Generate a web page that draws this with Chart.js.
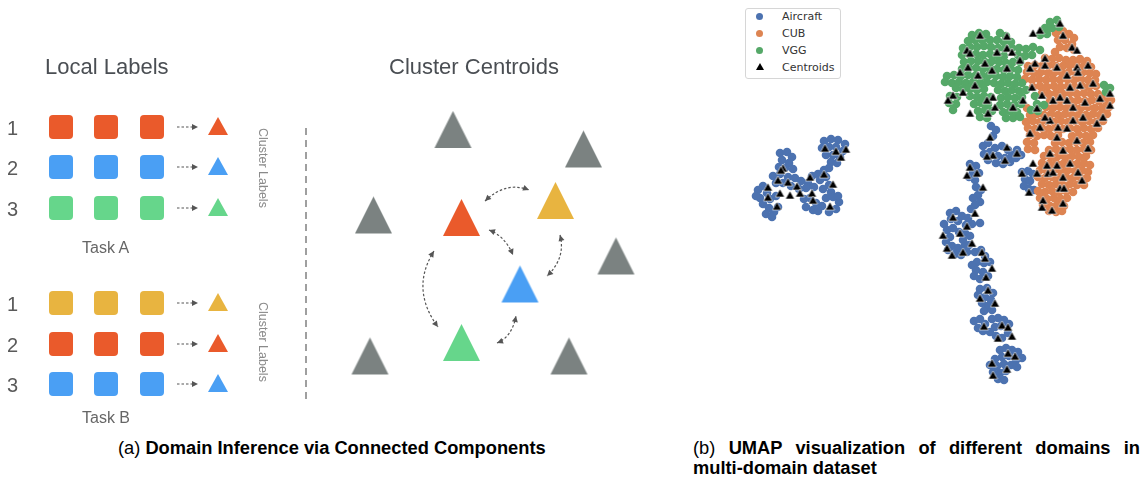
<!DOCTYPE html>
<html>
<head>
<meta charset="utf-8">
<script src="https://cdn.jsdelivr.net/npm/chart.js@4.4.1/dist/chart.umd.min.js"></script>
<style>
  body { margin: 0; background: #fff; width: 1147px; height: 480px; position: relative; overflow: hidden; font-family: "Liberation Sans", Arial, sans-serif; }
  canvas { position: absolute; }
  .t { position: absolute; line-height: 1; white-space: nowrap; }
  .title { font-size: 22px; color: #4a4e53; }
  .num { font-size: 20px; color: #5a5a5a; }
  .task { font-size: 16px; color: #666; }
  .vert { font-size: 12.5px; color: #8a8a8a; writing-mode: vertical-rl; }
  .cap { position: absolute; font-size: 18.3px; color: #000; line-height: 20px; }
  .cap b { font-weight: bold; }
  #legend { position: absolute; left: 745px; top: 8px; width: 94px; height: 69px; border: 1px solid #d6d6d6; border-radius: 3px; background: #fff; font-family: "DejaVu Sans", sans-serif; font-size: 11px; color: #333; }
  #legend div { position: absolute; line-height: 1; white-space: nowrap; }
</style>
</head>
<body>
<canvas id="diagram" width="700" height="430" style="left:0;top:0"></canvas>
<canvas id="umap" width="417" height="400" style="left:730px;top:0"></canvas>

<div class="t title" style="left:45px;top:56px">Local Labels</div>
<div class="t title" style="left:389px;top:56px">Cluster Centroids</div>
<div class="t task" style="left:82px;top:240px">Task A</div>
<div class="t task" style="left:82px;top:410px">Task B</div>
<div class="t vert" style="left:256px;top:128px">Cluster Labels</div>
<div class="t vert" style="left:256px;top:302px">Cluster Labels</div>
<div id="legend"></div>

<div class="cap" style="left:118px;top:438px;white-space:nowrap">(a) <b>Domain Inference via Connected Components</b></div>
<div class="cap" style="left:693px;top:438px;width:447px;text-align:justify">(b) <b>UMAP visualization of different domains in <span style="white-space:nowrap">multi-domain</span> dataset</b></div>

<script>
// ---- left panel: local labels -> cluster labels -> centroids
const palette = { red: '#ea5a2b', blue: '#4a9ff4', green: '#66d68b', yellow: '#e8b440', gray: '#7b8281' };

const squareCols = [61, 106, 152];
const clusterCol = 218;
const taskARows = [127, 167, 208];
const taskAColors = ['red', 'blue', 'green'];
const taskBRows = [303, 344, 384];
const taskBColors = ['yellow', 'red', 'blue'];
const rowNumbers = ['1', '2', '3'];

const centroidX = [453, 583.5, 373.5, 461.5, 555.5, 616, 520, 461.5, 370, 569];
const centroidY = [129.5, 149, 215, 217.5, 200.5, 256, 284, 342.5, 356, 356];
const centroidColors = ['gray', 'gray', 'gray', 'red', 'yellow', 'gray', 'blue', 'green', 'gray', 'gray'];

// curved double arrows between centroids: start, control, end
const linkArrows = [
  [485, 201, 506, 181, 529, 190],
  [489, 230, 505, 236, 513, 255],
  [560, 235, 566, 258, 547, 276],
  [434, 251, 410, 289, 438, 327],
  [497, 343, 512, 337, 516, 316]
];

// ---- right panel: UMAP embedding
const aircraft = [
  [824,141],[831,139],[838,140],[845,144],[822,148],[829,147],[836,147],[843,151],[826,155],[833,155],[840,157],[831,162],[837,163],
  [780,153],[787,152],[792,157],[782,160],[789,163],[785,168],[793,169],[779,167],
  [773,176],[780,174],[788,177],[795,178],[801,181],[808,183],[812,176],[818,174],[806,188],[799,189],[791,186],[783,183],[776,183],[814,187],[820,180],
  [824,170],[829,168],[826,177],[829,185],[823,189],[831,192],[826,198],[833,197],[839,202],[836,209],[829,212],[822,206],[838,196],
  [804,199],[810,198],[816,203],[813,210],[806,207],[818,211],
  [758,190],[763,186],[767,193],[760,198],[770,199],[763,204],[769,208],[774,212],[778,207],[766,214],[772,217],[776,196],[756,196],
  [991,126],[996,130],[993,136],
  [983,146],[988,143],[995,148],[1002,146],[1008,150],[1012,155],[1005,158],[998,156],[990,152],[984,154],[988,160],[996,163],[1003,164],[1010,162],
  [1017,150],[1021,155],[1016,158],
  [970,164],[976,166],[973,172],[979,173],[969,177],[975,180],
  [976,187],[981,190],[978,195],[973,198],[980,202],[975,205],[971,209],
  [1022,172],[1028,171],[1033,174],[1025,179],[1030,181],[1024,186],[1029,189],[1034,190],
  [950,213],[956,211],[962,216],[968,218],[972,224],[966,225],[958,221],[951,219],[944,224],[947,230],[953,228],[959,232],[965,233],[970,236],
  [963,240],[950,237],[946,242],[952,246],[958,248],[964,247],[969,245],[955,254],[961,255],[967,252],[948,250],
  [980,223],
  [975,252],[981,250],[985,256],[990,262],[984,263],[977,262],[972,265],[976,270],[983,272],[988,276],[980,279],[974,276],
  [980,289],[987,288],[993,293],[978,295],[985,297],[991,300],[982,303],[988,306],[984,311],[992,310],
  [974,321],[980,319],[985,324],[978,328],[983,331],
  [992,319],[998,318],[1004,320],[1009,324],[1001,326],[995,327],[990,332],[996,336],[1002,338],[1008,333],
  [1000,350],[1006,348],[1012,350],[1018,352],[1022,358],[1016,360],[1009,356],[1002,357],[995,359],[990,365],[997,366],[1004,364],[1011,365],[1017,367],
  [993,372],[1000,373],[1006,371],[998,379],[1004,380]
];

const cub = [
  [1056,33],[1063,31],[1069,34],[1074,38],[1058,40],[1065,40],[1072,44],[1060,47],[1067,48],[1074,50],[1055,52],
  [1045,58],[1052,59],[1059,58],[1066,60],[1073,60],[1080,59],[1087,61],
  [1028,66],[1035,65],[1042,66],[1049,65],[1056,66],[1063,66],[1070,65],[1077,66],[1084,66],[1091,67],
  [1027,72],[1034,73],[1041,72],[1048,73],[1055,72],[1062,73],[1069,72],[1076,73],[1083,72],[1090,73],[1096,74],
  [1025,79],[1032,80],[1039,79],[1046,80],[1053,79],[1060,80],[1067,79],[1074,80],[1081,79],[1088,80],[1095,80],
  [1033,87],[1040,86],[1047,87],[1054,86],[1061,87],[1068,86],[1075,87],[1082,86],[1089,87],[1096,86],
  [1042,93],[1049,94],[1056,93],[1063,94],[1070,93],[1077,94],[1084,93],[1091,94],[1098,94],[1105,96],
  [1050,100],[1057,101],[1064,100],[1071,101],[1078,100],[1085,101],[1092,100],[1099,101],[1106,101],[1111,100],
  [1027,108],[1046,107],[1053,108],[1060,107],[1067,108],[1074,107],[1081,108],[1088,107],[1095,108],[1102,108],[1109,107],
  [1030,115],[1037,114],[1044,115],[1051,114],[1058,115],[1065,114],[1072,115],[1079,114],[1086,115],[1093,114],[1100,115],[1107,114],
  [1026,122],[1033,121],[1040,122],[1047,121],[1054,122],[1061,121],[1068,122],[1075,121],[1082,122],[1089,121],[1096,122],[1103,121],
  [1028,128],[1035,129],[1042,128],[1049,129],[1056,128],[1063,129],[1070,128],[1077,129],[1084,128],[1091,129],[1098,128],
  [1030,135],[1037,136],[1044,135],[1051,136],[1058,135],[1072,136],[1079,135],[1086,136],[1093,135],
  [1027,142],[1034,143],[1055,143],[1062,142],[1069,143],[1076,142],[1083,143],[1090,142],
  [1028,149],[1035,150],[1049,150],[1056,149],[1063,150],[1070,149],[1077,150],[1084,149],[1091,150],
  [1044,156],[1051,157],[1058,156],[1065,157],[1072,156],[1079,157],[1086,156],
  [1042,163],[1049,164],[1056,163],[1063,164],[1070,163],[1077,164],[1084,163],[1090,165],
  [1040,170],[1047,171],[1054,170],[1061,171],[1068,170],[1075,171],[1082,170],[1088,172],
  [1038,177],[1045,178],[1052,177],[1059,178],[1066,177],[1073,178],[1080,177],[1087,178],
  [1042,184],[1049,185],[1056,184],[1063,185],[1070,184],[1077,185],[1084,185],
  [1038,191],[1045,192],[1052,191],[1059,192],[1066,191],[1073,192],
  [1040,198],[1047,199],[1054,198],[1061,199],[1067,198],
  [1043,205],[1050,206],[1057,205],[1064,206],
  [1049,211],[1056,212],[1062,211]
];

const vgg = [
  [1050,22],[1057,20],[1045,28],[1052,28],[1059,27],[1040,35],[1047,34],
  [972,35],[979,33],[986,34],[1000,33],[1006,36],
  [968,41],[975,40],[982,40],[990,40],[997,40],[1004,42],[1011,42],
  [963,48],[970,47],[977,47],[984,46],[991,47],[998,48],[1005,49],[1012,48],[1019,48],[1026,49],[1033,47],[1040,50],
  [962,55],[969,54],[976,54],[983,55],[990,54],[997,55],[1004,56],[1018,55],[1025,56],[1032,55],
  [964,62],[971,61],[978,61],[985,62],[992,61],[999,62],[1006,63],[1013,62],[1020,62],
  [962,69],[969,68],[976,68],[983,69],[990,68],[997,69],[1004,70],[1011,69],[1018,70],
  [947,76],[954,75],[961,76],[968,75],[975,76],[982,76],[989,75],[996,76],[1003,77],[1010,76],[1017,77],
  [945,82],[952,83],[959,82],[966,83],[973,82],[980,83],[987,82],[994,83],[1001,84],[1008,83],[1015,84],[1022,83],
  [956,88],[963,89],[970,89],[977,90],[984,89],[998,90],[1005,91],[1012,90],[1019,91],[1026,90],
  [950,96],[957,97],[970,96],[977,97],[984,96],[991,97],[1001,98],[1008,97],[1015,98],[1022,97],[1035,96],
  [949,103],[956,104],[974,104],[981,103],[988,104],[1000,105],[1007,104],[1014,105],[1021,104],[1037,104],[1044,105],
  [953,110],[978,111],[985,110],[992,111],[1003,112],[1010,111],[1017,112],[1031,110],[1038,111],
  [980,117],[987,118],[1006,118],[1013,118],[1020,117],
  [1104,85],[1110,88],[1106,92]
];

const centroids = [
  [825,148],[836,151],[841,157],[846,149],[783,168],[781,170],[778,180],[788,182],[797,186],[810,177],[824,174],[833,184],
  [768,187],[780,193],[790,195],[800,193],[812,193],[813,200],[768,197],[777,206],[830,206],
  [980,35],[1007,36],[1033,33],[1040,30],[1060,23],[1063,35],[1072,47],[1077,50],[967,50],[970,53],[997,52],[1007,48],[1012,52],
  [1020,60],[1035,63],[1045,58],[985,63],[968,67],[960,72],[978,75],[992,70],[1007,68],[1030,68],[1045,65],[1057,67],[1067,75],
  [1077,67],[1078,72],[1088,65],[1080,85],[1093,83],[1070,87],[953,95],[948,100],[963,92],[975,85],[993,97],[987,100],[970,113],
  [988,113],[995,107],[1013,107],[1023,100],[1032,87],[1042,95],[1053,100],[1060,97],[1067,100],[1073,107],[1085,102],[1100,98],
  [1110,93],[1110,105],[1103,117],[1097,123],[1083,117],[1073,120],[1067,128],[1058,127],[1050,120],[1045,117],[1037,108],
  [1040,127],[1030,133],[1057,137],[1077,140],[1088,148],[1063,150],[1050,153],[1047,165],[1033,163],[1057,165],[1070,163],
  [1078,172],[1082,180],[1022,173],[1037,173],[1048,173],[1053,172],[1063,177],[1060,188],[1064,188],[1029,192],[1043,200],
  [1042,207],[1052,210],[1063,203],
  [990,137],[1007,147],[993,155],[987,156],[1005,160],[1017,153],[970,167],[977,173],[967,175],[983,187],
  [975,213],[953,217],[967,226],[960,233],[943,235],[972,243],[947,248],[952,255],[963,252],[982,252],[985,258],[992,268],
  [986,277],[988,290],[980,298],[995,303],[984,326],[1002,325],[1008,327],[1012,336],[998,338],[1008,353],[1015,356],
  [992,363],[1007,369],[993,375]
];

const seriesNames = ['Aircraft', 'CUB', 'VGG', 'Centroids'];
const seriesColors = ['#4c72b0', '#dd8452', '#55a868', '#000000'];

// ---- sprites
function triangleSprite(w, h, fill, edge) {
  const c = document.createElement('canvas');
  c.width = w + 2; c.height = h + 2;
  const g = c.getContext('2d');
  g.beginPath();
  g.moveTo(1 + w / 2, 1); g.lineTo(1 + w, 1 + h); g.lineTo(1, 1 + h); g.closePath();
  g.fillStyle = fill; g.fill();
  if (edge) { g.strokeStyle = edge; g.lineWidth = 0.6; g.stroke(); }
  return c;
}
function squareSprite(size, r, fill) {
  const c = document.createElement('canvas');
  c.width = size; c.height = size;
  const g = c.getContext('2d');
  g.beginPath(); g.roundRect(0, 0, size, size, r);
  g.fillStyle = fill; g.fill();
  return c;
}
const squares = {}, smallTri = {}, bigTri = {};
Object.keys(palette).forEach(k => {
  squares[k] = squareSprite(24, 4, palette[k]);
  smallTri[k] = triangleSprite(20, 18, palette[k]);
  bigTri[k] = triangleSprite(37, 37, palette[k]);
});
const centroidSprite = triangleSprite(9, 8, '#000', '#fff');

// ---- left diagram chart
const squarePts = [], squareStyles = [], clusterPts = [], clusterStyles = [];
[[taskARows, taskAColors], [taskBRows, taskBColors]].forEach(([rows, cols]) => {
  rows.forEach((y, i) => {
    squareCols.forEach(x => { squarePts.push({ x, y }); squareStyles.push(squares[cols[i]]); });
    clusterPts.push({ x: clusterCol, y: y - 1 }); clusterStyles.push(smallTri[cols[i]]);
  });
});

function arrowHead(ctx, tx, ty, fx, fy, len, half) {
  const a = Math.atan2(ty - fy, tx - fx);
  ctx.beginPath();
  ctx.moveTo(tx, ty);
  ctx.lineTo(tx - len * Math.cos(a) + half * Math.sin(a), ty - len * Math.sin(a) - half * Math.cos(a));
  ctx.lineTo(tx - len * Math.cos(a) - half * Math.sin(a), ty - len * Math.sin(a) + half * Math.cos(a));
  ctx.closePath();
  ctx.fill();
}

const arrowPlugin = {
  id: 'arrows',
  afterDatasetsDraw(chart) {
    const { ctx, scales: { x, y } } = chart;
    const px = v => x.getPixelForValue(v), py = v => y.getPixelForValue(v);
    ctx.save();
    // divider
    ctx.strokeStyle = '#777'; ctx.lineWidth = 1.4; ctx.setLineDash([7, 5]);
    ctx.beginPath(); ctx.moveTo(px(306), py(128)); ctx.lineTo(px(306), py(400)); ctx.stroke();
    // local -> cluster arrows
    ctx.strokeStyle = '#555'; ctx.fillStyle = '#555'; ctx.lineWidth = 1.2; ctx.setLineDash([2.5, 2]);
    taskARows.concat(taskBRows).forEach(r => {
      ctx.beginPath(); ctx.moveTo(px(177), py(r)); ctx.lineTo(px(192), py(r)); ctx.stroke();
      arrowHead(ctx, px(198), py(r), px(190), py(r), 6, 3);
    });
    // centroid links
    linkArrows.forEach(([x1, y1, cx, cy, x2, y2]) => {
      ctx.beginPath();
      ctx.moveTo(px(x1), py(y1)); ctx.quadraticCurveTo(px(cx), py(cy), px(x2), py(y2));
      ctx.stroke();
      arrowHead(ctx, px(x1), py(y1), px(cx), py(cy), 6, 3);
      arrowHead(ctx, px(x2), py(y2), px(cx), py(cy), 6, 3);
    });
    ctx.restore();
  }
};

new Chart(document.getElementById('diagram'), {
  type: 'scatter',
  data: {
    datasets: [
      { data: squarePts, pointStyle: squareStyles, pointRadius: 12, clip: false },
      { data: clusterPts, pointStyle: clusterStyles, pointRadius: 10, clip: false },
      { data: centroidX.map((x, i) => ({ x, y: centroidY[i] })), pointStyle: centroidColors.map(c => bigTri[c]), pointRadius: 18, clip: false }
    ]
  },
  options: {
    responsive: false, animation: false, devicePixelRatio: 1,
    layout: { padding: 0, autoPadding: false },
    plugins: { legend: { display: false }, tooltip: { enabled: false } },
    scales: {
      x: { display: false, min: 0, max: 700 },
      y: { display: false, min: 0, max: 430, reverse: true }
    }
  },
  plugins: [arrowPlugin]
});

// row numbers
[taskARows, taskBRows].forEach(rows => rows.forEach((r, i) => {
  const d = document.createElement('div');
  d.className = 't num'; d.textContent = rowNumbers[i];
  d.style.left = '7px'; d.style.top = (r - 9.5) + 'px';
  document.body.appendChild(d);
}));

// ---- UMAP chart
const toPts = arr => arr.map(([x, y]) => ({ x, y }));
new Chart(document.getElementById('umap'), {
  type: 'scatter',
  data: {
    datasets: [
      { label: seriesNames[0], data: toPts(aircraft), backgroundColor: seriesColors[0], pointRadius: 4.3, borderWidth: 0, order: 3, clip: false },
      { label: seriesNames[1], data: toPts(cub), backgroundColor: seriesColors[1], pointRadius: 4.3, borderWidth: 0, order: 2, clip: false },
      { label: seriesNames[2], data: toPts(vgg), backgroundColor: seriesColors[2], pointRadius: 4.3, borderWidth: 0, order: 1, clip: false },
      { label: seriesNames[3], data: toPts(centroids), pointStyle: centroidSprite, pointRadius: 4, order: 0, clip: false }
    ]
  },
  options: {
    responsive: false, animation: false, devicePixelRatio: 1,
    layout: { padding: 0, autoPadding: false },
    plugins: { legend: { display: false }, tooltip: { enabled: false } },
    scales: {
      x: { display: false, min: 730, max: 1147 },
      y: { display: false, min: 0, max: 400, reverse: true }
    }
  }
});

// legend
const legend = document.getElementById('legend');
seriesNames.forEach((name, i) => {
  const cy = 7.5 + i * 16.8;
  const m = document.createElement('div');
  if (i < 3) {
    m.style.cssText = `left:10px;top:${cy - 3.5}px;width:7px;height:7px;border-radius:50%;background:${seriesColors[i]}`;
  } else {
    m.style.cssText = `left:10px;top:${cy - 3.5}px;width:0;height:0;border-left:4px solid transparent;border-right:4px solid transparent;border-bottom:7px solid #000`;
  }
  legend.appendChild(m);
  const t = document.createElement('div');
  t.textContent = name;
  t.style.left = '36px'; t.style.top = (cy - 5.3) + 'px';
  legend.appendChild(t);
});
</script>
</body>
</html>
